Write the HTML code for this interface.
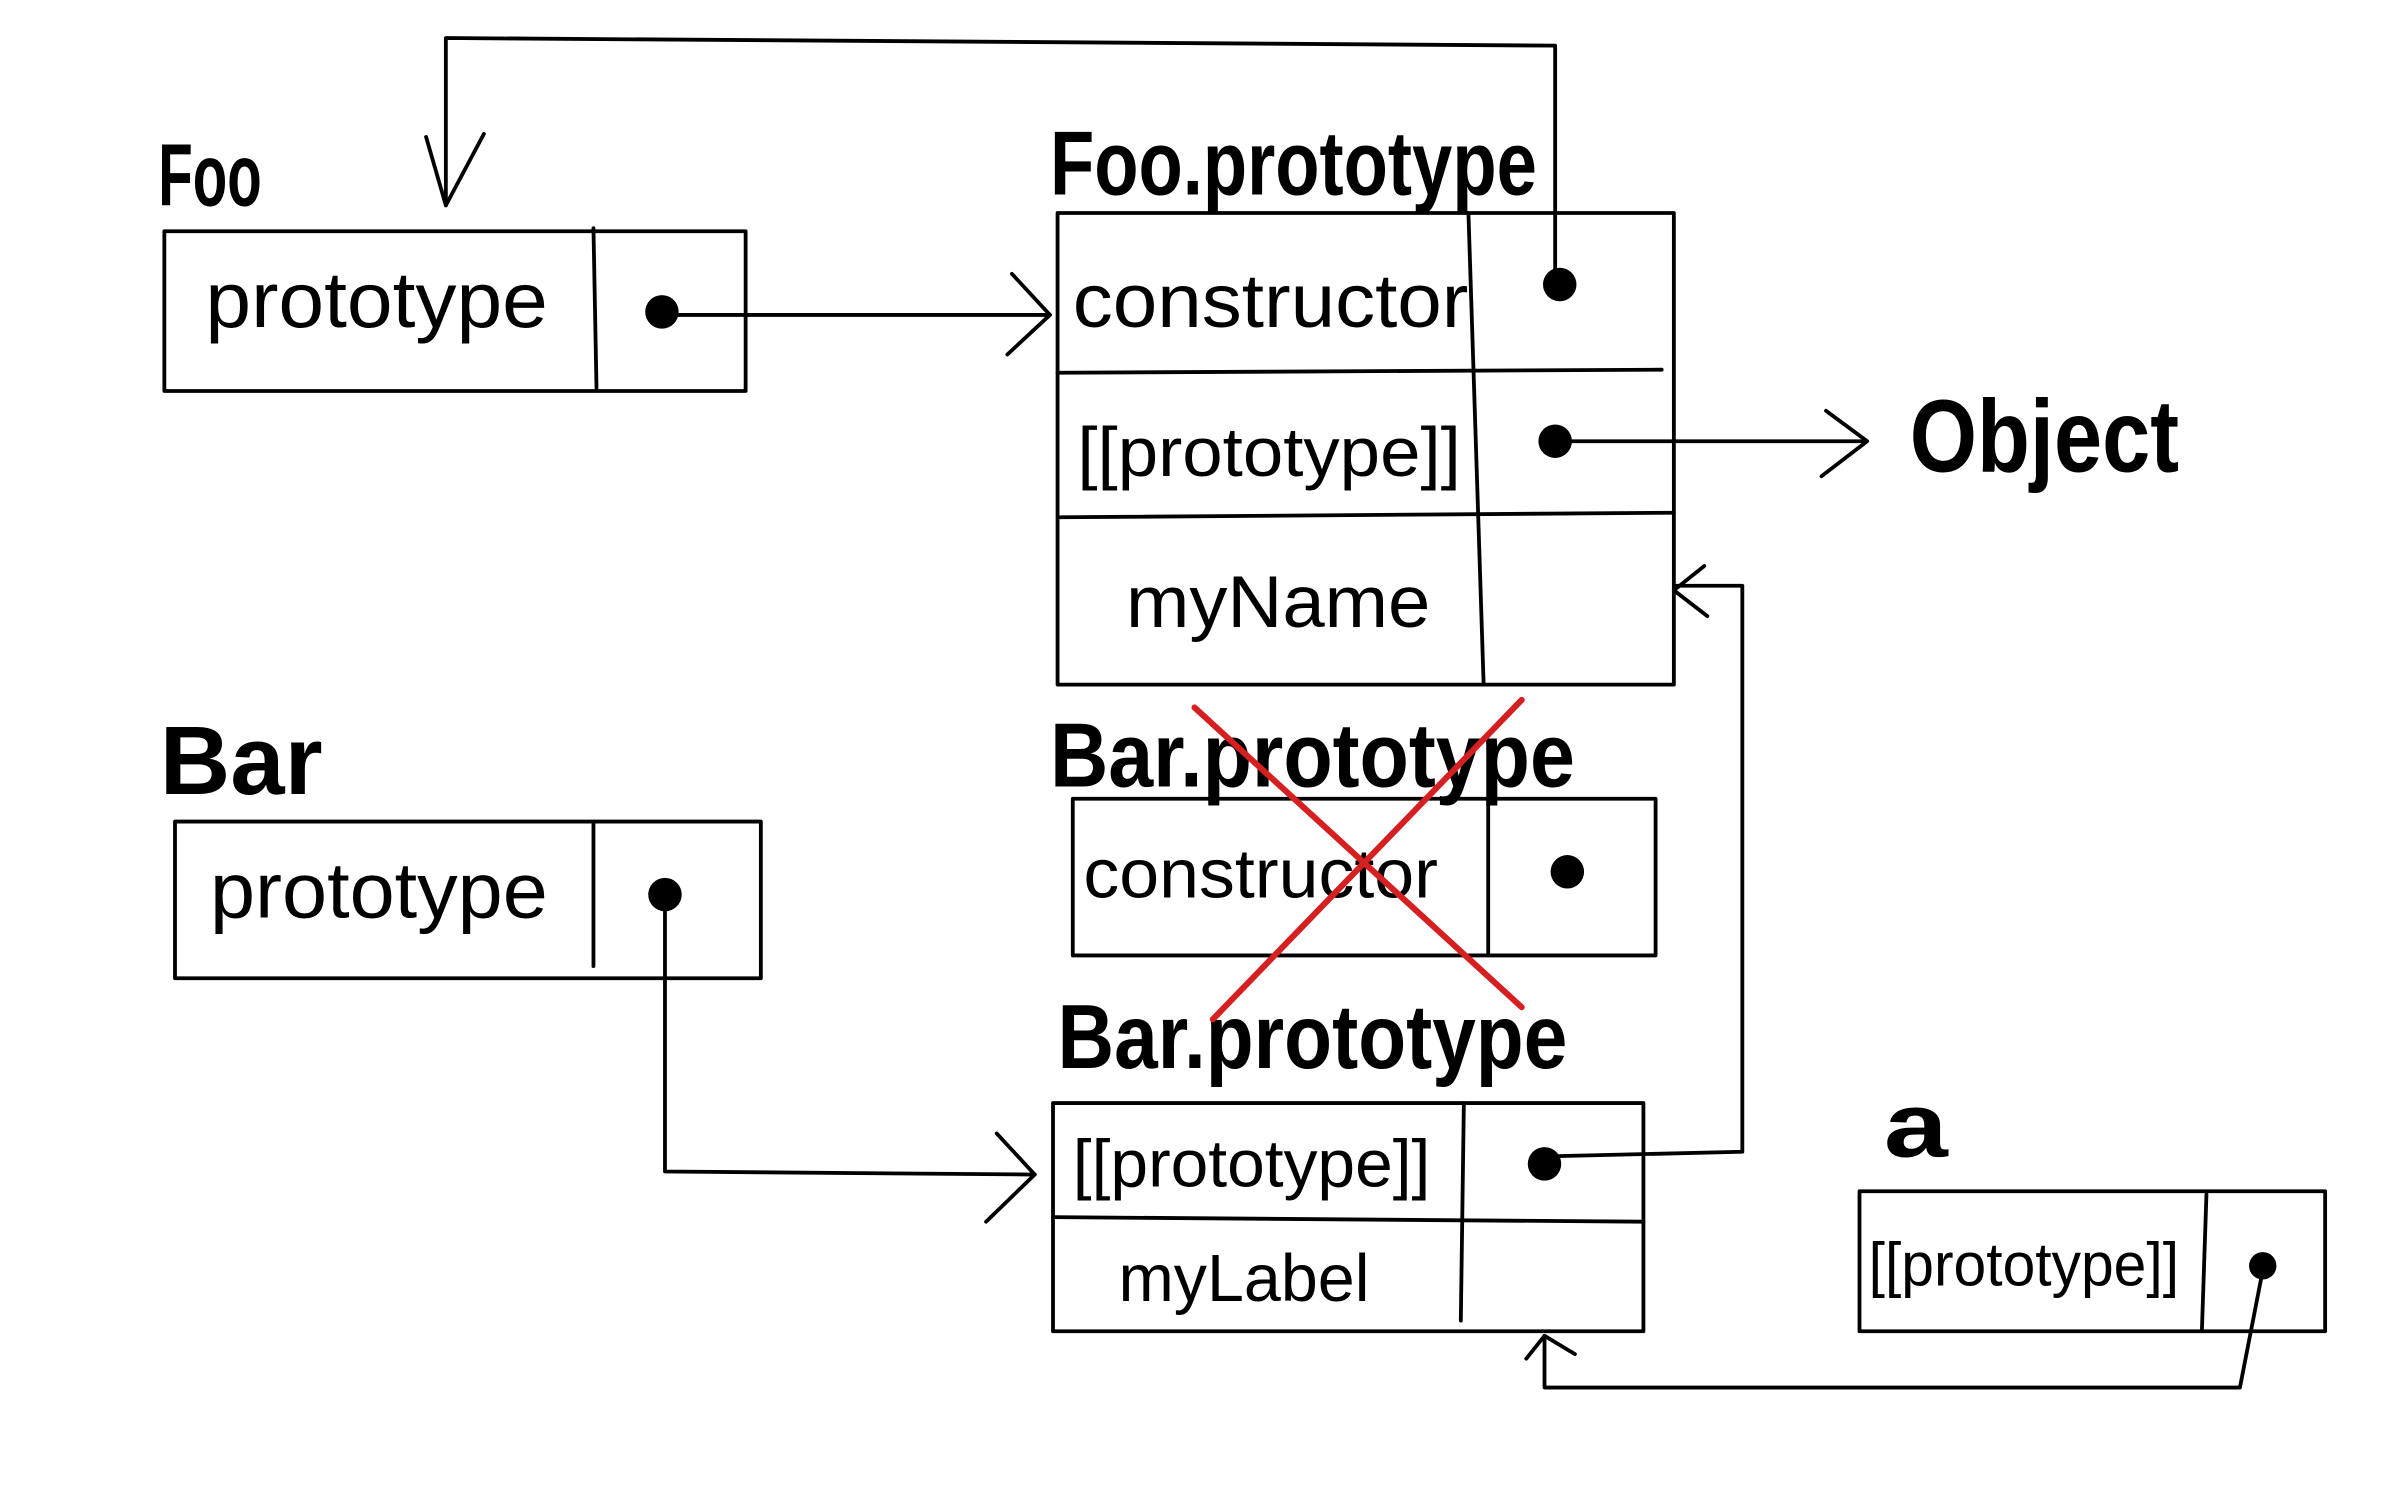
<!DOCTYPE html>
<html><head><meta charset="utf-8"><style>
html,body{margin:0;padding:0;background:#fff;}
svg{display:block;}
text{font-family:"Liberation Sans",sans-serif;fill:#000;}
.b{font-weight:bold;}
</style></head><body>
<svg width="2386" height="1491" viewBox="0 0 1568 980" preserveAspectRatio="none" xmlns="http://www.w3.org/2000/svg">
<g fill="none" stroke="#000" stroke-width="2.5" stroke-linecap="round" stroke-linejoin="round">
<polyline points="1022,185 1022,30 293,25 293,135"/>
<polyline points="280,90 293,135 318,88"/>
<rect x="108" y="152" width="382" height="105"/>
<line x1="390" y1="150" x2="392" y2="255"/>
<line x1="445" y1="207" x2="690" y2="207"/>
<polyline points="665,180 690,207 662,233"/>
<rect x="695" y="140" width="405" height="310"/>
<line x1="695" y1="245" x2="1092" y2="243"/>
<line x1="697" y1="340" x2="1100" y2="337"/>
<line x1="965" y1="140" x2="975" y2="450"/>
<line x1="1030" y1="290" x2="1225" y2="290"/>
<polyline points="1200,270 1227,290 1197,313"/>
<rect x="115" y="540" width="385" height="103"/>
<line x1="390" y1="540" x2="390" y2="635"/>
<polyline points="437,595 437,770 680,772"/>
<polyline points="655,745 680,772 648,803"/>
<rect x="705" y="525" width="383" height="103"/>
<line x1="978" y1="525" x2="978" y2="628"/>
<rect x="692" y="725" width="388" height="150"/>
<line x1="692" y1="800" x2="1080" y2="803"/>
<line x1="962" y1="725" x2="960" y2="868"/>
<polyline points="1020,760 1145,757 1145,385 1100,385"/>
<polyline points="1120,372 1100,388 1122,405"/>
<rect x="1222" y="783" width="306" height="92"/>
<line x1="1450" y1="785" x2="1447" y2="875"/>
<polyline points="1487,835 1472,912 1015,912 1015,878"/>
<polyline points="1003,893 1015,878 1035,890"/>
</g>
<g fill="#000">
<circle cx="435" cy="205" r="11"/>
<circle cx="1025" cy="187" r="11"/>
<circle cx="1022" cy="290" r="11"/>
<circle cx="437" cy="588" r="11"/>
<circle cx="1030" cy="573" r="11"/>
<circle cx="1015" cy="765" r="11"/>
<circle cx="1487" cy="832" r="9"/>
</g>
<g lengthAdjust="spacingAndGlyphs">
<text x="104" y="135" class="b" font-size="58" textLength="68" lengthAdjust="spacingAndGlyphs">Foo</text>
<text x="690" y="128" class="b" font-size="60" textLength="320" lengthAdjust="spacingAndGlyphs">Foo.prototype</text>
<text x="135" y="215" font-size="52" textLength="225" lengthAdjust="spacingAndGlyphs">prototype</text>
<text x="705" y="215" font-size="50" textLength="260" lengthAdjust="spacingAndGlyphs">constructor</text>
<text x="708" y="313" font-size="46" textLength="252" lengthAdjust="spacingAndGlyphs">[[prototype]]</text>
<text x="740" y="412" font-size="48" textLength="200" lengthAdjust="spacingAndGlyphs">myName</text>
<text x="1255" y="310" class="b" font-size="68" textLength="177" lengthAdjust="spacingAndGlyphs">Object</text>
<text x="105" y="522" class="b" font-size="64" textLength="107" lengthAdjust="spacingAndGlyphs">Bar</text>
<text x="138" y="603" font-size="52" textLength="222" lengthAdjust="spacingAndGlyphs">prototype</text>
<text x="690" y="517" class="b" font-size="60" textLength="345" lengthAdjust="spacingAndGlyphs">Bar.prototype</text>
<text x="712" y="590" font-size="46" textLength="233" lengthAdjust="spacingAndGlyphs">constructor</text>
<text x="695" y="702" class="b" font-size="60" textLength="335" lengthAdjust="spacingAndGlyphs">Bar.prototype</text>
<text x="705" y="780" font-size="44" textLength="235" lengthAdjust="spacingAndGlyphs">[[prototype]]</text>
<text x="735" y="855" font-size="44" textLength="165" lengthAdjust="spacingAndGlyphs">myLabel</text>
<text x="1238" y="760" class="b" font-size="60" textLength="42" lengthAdjust="spacingAndGlyphs">a</text>
<text x="1228" y="845" font-size="40" textLength="204" lengthAdjust="spacingAndGlyphs">[[prototype]]</text>
</g>
<g stroke="#d42020" stroke-width="4" stroke-linecap="round">
<line x1="785" y1="465" x2="1000" y2="662"/>
<line x1="1000" y1="460" x2="797" y2="670"/>
</g>
</svg>
</body></html>
